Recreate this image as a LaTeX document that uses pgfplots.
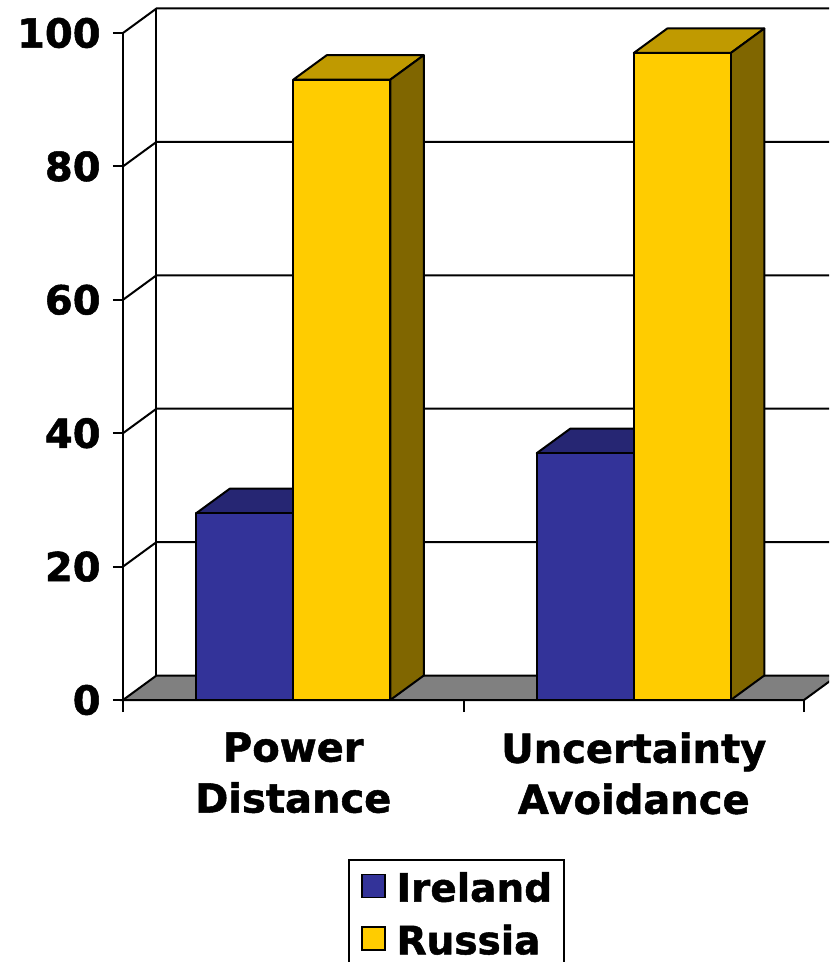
\documentclass[border=0pt]{standalone}
\usepackage{fontspec}
\setmainfont{DejaVu Sans}[BoldFeatures={FakeBold=1.3}]
\usepackage{pgfplots}
\pgfplotsset{compat=1.18}
\usepackage{pgfplotstable}

\definecolor{ireF}{HTML}{333399}
\definecolor{ireT}{HTML}{262673}
\definecolor{ireS}{HTML}{1F1F5C}
\definecolor{rusF}{HTML}{FFCC00}
\definecolor{rusT}{HTML}{C09A00}
\definecolor{rusS}{HTML}{806600}
\definecolor{floorC}{HTML}{808080}

\pgfplotstableread{
x   ireland russia
0.5 28      93
1.5 37      97
}\hofstede

% geometry (pt): y unit, bar width, depth offsets
\def\yu{3.335}
\def\bw{48.52}
\def\ddx{16.75}
\def\ddy{12.25}

\newcommand{\prism}[5]{% #1 value, #2 left offset (pt), #3 front, #4 top, #5 side
  \pgfmathsetmacro{\hh}{#1*\yu}%
  \pgfmathsetmacro{\xl}{#2}%
  \pgfmathsetmacro{\xr}{#2+\bw}%
  \pgfmathsetmacro{\xrr}{#2+\bw+\ddx}%
  \pgfmathsetmacro{\xlr}{#2+\ddx}%
  \pgfmathsetmacro{\yb}{-\hh}%
  \pgfmathsetmacro{\ybb}{-\hh+\ddy}%
  \filldraw[fill=#4, draw=black, line width=1pt, line join=round]
    (\xl pt,0pt) -- (\xr pt,0pt) -- (\xrr pt,\ddy pt) -- (\xlr pt,\ddy pt) -- cycle;
  \filldraw[fill=#5, draw=black, line width=1pt, line join=round]
    (\xr pt,0pt) -- (\xrr pt,\ddy pt) -- (\xrr pt,\ybb pt) -- (\xr pt,\yb pt) -- cycle;
  \filldraw[fill=#3, draw=black, line width=1pt, line join=round]
    (\xl pt,\yb pt) rectangle (\xr pt,0pt);
}

\begin{document}
\begin{tikzpicture}
\useasboundingbox (-61.5pt,-131pt) rectangle (353pt,350pt);
\clip (-61.5pt,-131pt) rectangle (353pt,350pt);
\begin{axis}[
  at={(0pt,0pt)}, anchor=origin,
  x=170.25pt, y=3.335pt,
  xmin=0, xmax=2, ymin=0, ymax=100,
  clip=false,
  axis x line*=bottom, axis y line*=left,
  axis line style={line width=1pt, black},
  ytick={0,20,...,100},
  tick align=outside,
  major tick length=5pt,
  ytick style={line width=1pt, black},
  xtick={0.5,1.5},
  xticklabels={Power\\Distance, Uncertainty\\Avoidance},
  xtick style={draw=none},
  extra x ticks={0,1,2},
  extra x tick labels={},
  extra x tick style={xtick style={draw=black, line width=1pt}, major tick length=6pt},
  /pgf/number format/assume math mode=true,
  ticklabel style={font=\fontsize{20}{25.5}\selectfont\bfseries},
  yticklabel style={anchor=east, inner sep=0pt, xshift=-6pt},
  xticklabel style={align=center, anchor=north, inner sep=0pt, yshift=-11pt},
  legend style={at={(0.3304,-0.2384)}, anchor=north west, draw=black, line width=1pt,
    font=\fontsize{19.5}{23}\selectfont\bfseries, inner xsep=6pt, inner ysep=4pt,
    nodes={inner xsep=0pt},
    /tikz/every odd column/.append style={column sep=5.5pt},
    row sep=6pt},
  legend cell align=left,
]
% side wall diagonals + back wall gridlines
\addplot[forget plot, black, line width=1pt] coordinates {(0,20) (0.09838,23.673) (2.3,23.673)};
\addplot[forget plot, black, line width=1pt] coordinates {(0,40) (0.09838,43.673) (2.3,43.673)};
\addplot[forget plot, black, line width=1pt] coordinates {(0,60) (0.09838,63.673) (2.3,63.673)};
\addplot[forget plot, black, line width=1pt] coordinates {(0,80) (0.09838,83.673) (2.3,83.673)};
\addplot[forget plot, black, line width=1pt] coordinates {(0,100) (0.09838,103.673) (2.3,103.673)};
\addplot[forget plot, black, line width=1pt] coordinates {(0.09838,3.673) (0.09838,103.673)};
% floor
\addplot[forget plot, fill=floorC, draw=black, line width=1pt] coordinates {(0,0) (0.09838,3.673) (2.09838,3.673) (2,0)} -- cycle;
% bars
\addplot[scatter, only marks, mark=*, mark size=0pt, mark options={draw=none, fill=none},
  visualization depends on={rawy \as \rawv},
  scatter/@pre marker code/.code={\prism{\rawv}{-\bw}{ireF}{ireT}{ireS}},
  scatter/@post marker code/.code={},
  legend image code/.code={\filldraw[fill=ireF, draw=black, line width=0.8pt] (0pt,-4.5pt) rectangle (11.5pt,7pt);}
] table[x=x, y=ireland] {\hofstede};
\addlegendentry{Ireland}
\addplot[scatter, only marks, mark=*, mark size=0pt, mark options={draw=none, fill=none},
  visualization depends on={rawy \as \rawv},
  scatter/@pre marker code/.code={\prism{\rawv}{0}{rusF}{rusT}{rusS}},
  scatter/@post marker code/.code={},
  legend image code/.code={\filldraw[fill=rusF, draw=black, line width=0.8pt] (0pt,-4.5pt) rectangle (11.5pt,7pt);}
] table[x=x, y=russia] {\hofstede};
\addlegendentry{Russia}
\end{axis}
\end{tikzpicture}
\end{document}
